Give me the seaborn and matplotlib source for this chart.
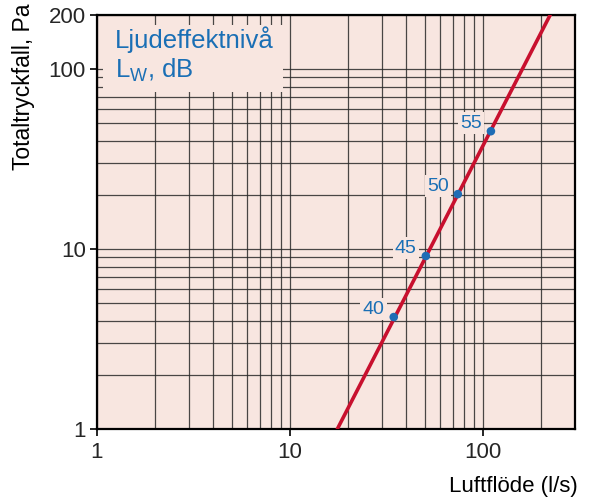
import matplotlib
matplotlib.use("Agg")
import matplotlib.pyplot as plt
import matplotlib.ticker as mticker
from matplotlib.patches import Rectangle
import seaborn as sns
import pandas as pd

# ---- data ----
line_flow = [17.6, 223.0]        # l/s
line_pressure = [1.0, 200.0]     # Pa
point_levels = ["40", "45", "50", "55"]   # Lw, dB
point_flow = [34.5, 50.6, 74.1, 110.0]
point_pressure = [4.19, 9.15, 20.2, 45.2]
x_ticks = [1, 10, 100]
y_ticks = [1, 10, 100, 200]

sns.set_style("ticks")
plt.rcParams["font.family"] = ["Liberation Sans", "DejaVu Sans"]
plt.rcParams["mathtext.fontset"] = "custom"
plt.rcParams["mathtext.rm"] = "Liberation Sans"

BG = "#f8e6e0"
RED = "#c8102e"
BLUE = "#1f6db5"
TXT_BLUE = "#1a6fb5"

fig = plt.figure(figsize=(5.92, 5.01), dpi=100)
ax = fig.add_axes([97 / 592, 72 / 501, 478 / 592, 414 / 501])
ax.set_facecolor(BG)

line_df = pd.DataFrame({"flow": line_flow, "pressure": line_pressure})
pts_df = pd.DataFrame({"flow": point_flow, "pressure": point_pressure, "level": point_levels})

ax.set_xscale("log")
ax.set_yscale("log")

sns.lineplot(data=line_df, x="flow", y="pressure", ax=ax, color=RED, lw=2.6,
             zorder=4, legend=False)
sns.scatterplot(data=pts_df, x="flow", y="pressure", ax=ax, color=BLUE, s=38,
                edgecolor="none", zorder=5, legend=False)

ax.set_xlim(1, 300)
ax.set_ylim(1, 200)

ax.xaxis.set_major_locator(mticker.FixedLocator(x_ticks))
ax.yaxis.set_major_locator(mticker.FixedLocator(y_ticks))
ax.xaxis.set_major_formatter(mticker.FixedFormatter([str(v) for v in x_ticks]))
ax.yaxis.set_major_formatter(mticker.FixedFormatter([str(v) for v in y_ticks]))
ax.xaxis.set_minor_locator(mticker.LogLocator(base=10, subs=range(2, 10)))
ax.yaxis.set_minor_locator(mticker.LogLocator(base=10, subs=range(2, 10)))
ax.xaxis.set_minor_formatter(mticker.NullFormatter())
ax.yaxis.set_minor_formatter(mticker.NullFormatter())

ax.grid(which="both", color="#2a2a2a", lw=0.9, alpha=0.85, zorder=1)
ax.set_axisbelow(True)
ax.tick_params(which="major", direction="out", length=5, width=1.2, color="black",
               labelsize=16, pad=4)
ax.tick_params(axis="y", which="major", pad=3)
ax.tick_params(which="minor", length=0)
for s in ax.spines.values():
    s.set_color("black")
    s.set_linewidth(1.6)

ax.set_xlabel("")
ax.set_ylabel("")

# legend-like title box
ax.add_patch(Rectangle((6 / 478, (429 - 92) / 414), (283 - 103) / 478, (92 - 25) / 414,
                       transform=ax.transAxes, facecolor=BG, edgecolor="none", zorder=2))
ax.text(18 / 478, (429 - 48) / 414, "Ljudeffektnivå", transform=ax.transAxes,
        color=TXT_BLUE, fontsize=18.5, ha="left", va="baseline", zorder=3)
ax.text(18 / 478, (429 - 78) / 414, r"L$_\mathrm{W}$, dB", transform=ax.transAxes,
        color=TXT_BLUE, fontsize=18.5, ha="left", va="baseline", zorder=3)

# point labels
for lvl, fx, py in zip(point_levels, point_flow, point_pressure):
    ax.annotate(lvl, (fx, py), xytext=(-20, 8), textcoords="offset pixels",
                ha="center", va="center", fontsize=14, color=TXT_BLUE, zorder=3,
                bbox=dict(boxstyle="square,pad=0.12", facecolor=BG, edgecolor="none"))

fig.text(578 / 592, 1 - 492 / 501, "Luftflöde (l/s)", ha="right", va="baseline",
         fontsize=16, color="black")
fig.text(24 / 592, 1 - 4 / 501, "Totaltryckfall, Pa", ha="center", va="top",
         rotation=90, fontsize=16.5, color="black")

fig.savefig("out.png", dpi=100, facecolor="white")
